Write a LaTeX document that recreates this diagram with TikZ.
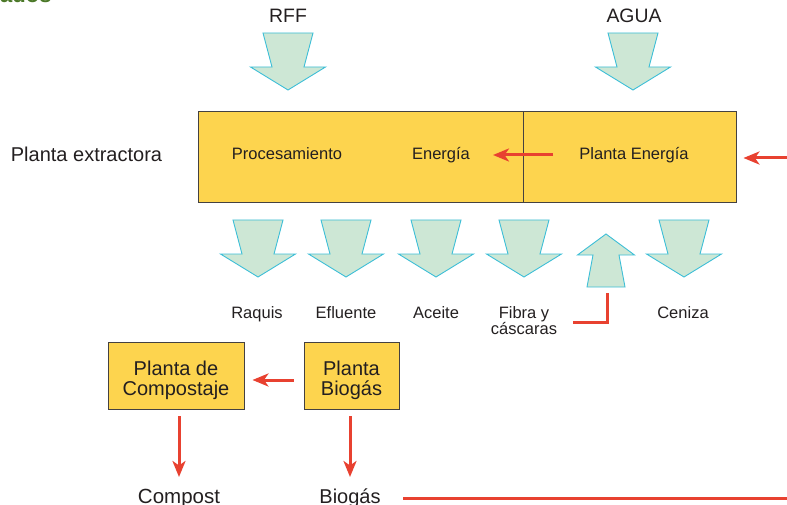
\documentclass[tikz,border=0pt]{standalone}
\usepackage{fontspec}
\setmainfont{Liberation Sans}
\usetikzlibrary{arrows.meta}
\definecolor{boxyellow}{RGB}{253,212,78}
\definecolor{arrgreen}{RGB}{205,231,213}
\definecolor{arrcyan}{RGB}{60,190,215}
\definecolor{redline}{RGB}{232,65,48}
\definecolor{txtgray}{RGB}{35,31,32}
\definecolor{titlegreen}{RGB}{75,120,40}
\begin{document}
\begin{tikzpicture}[x=1pt,y=-1pt,
  plantbox/.style={draw=txtgray!85, fill=boxyellow, line width=0.9pt, inner sep=0pt},
  blockarr/.style={draw=arrcyan, fill=arrgreen, line width=0.9pt, line join=miter},
  redarr/.style={draw=redline, line width=3pt, -{Stealth[length=16pt,width=13pt,inset=4.5pt]}},
  redplain/.style={draw=redline, line width=3pt},
  lblsmall/.style={text=txtgray, inner sep=0pt, anchor=base, font=\fontsize{16.5}{16}\selectfont, align=center},
  lblbig/.style={text=txtgray, inner sep=0pt, anchor=base, font=\fontsize{20}{20}\selectfont, align=center},
  downarr/.pic={\path[blockarr] (-25,0) -- (25,0) -- (16,34) -- (37.5,34) -- (0,57) -- (-37.5,34) -- (-16,34) -- cycle;},
  uparr/.pic={\path[blockarr] (0,0) -- (28.5,21) -- (13,21) -- (19,53) -- (-19,53) -- (-13,21) -- (-28.5,21) -- cycle;}
]
\useasboundingbox (0,0) rectangle (787,505);
\clip (0,0) rectangle (787,505);

% cropped title
\node[anchor=base west, inner sep=0pt, text=titlegreen, font=\fontsize{22}{22}\selectfont\bfseries] (title) at (0,3) {ados};

% inputs
\node[lblbig, font=\fontsize{19.4}{20}\selectfont] (rff) at (288,23) {RFF};
\node[lblbig, font=\fontsize{19.4}{20}\selectfont] (agua) at (634,23) {AGUA};
\pic at (288,33) {downarr};
\pic at (633,33) {downarr};

% main plant
\node[plantbox, minimum width=325pt, minimum height=91pt] (proc) at (360.5,156.5) {};
\node[plantbox, minimum width=213pt, minimum height=91pt] (pen) at (629.5,156.5) {};
\node[lblsmall] (proct) at (287,160) {Procesamiento};
\node[lblsmall] (energia) at (441,160) {Energía};
\node[lblsmall] (pent) at (634,160) {Planta Energía};
\node[lblbig] (extr) at (86.5,162) {Planta extractora};

\coordinate (eout) at (553,155);
\coordinate (etip) at (493,155);
\draw[redarr] (eout) -- (etip);
\coordinate (rin) at (787,158);
\draw[redarr, shorten >=7pt] (rin) -- (rin -| pen.east);

% outputs
\pic at (258,220) {downarr};
\pic at (346,220) {downarr};
\pic at (436,220) {downarr};
\pic at (524,220) {downarr};
\pic at (684,220) {downarr};
\pic at (606,234) {uparr};

\node[lblsmall] (raquis) at (257,318) {Raquis};
\node[lblsmall] (efluente) at (346,318) {Efluente};
\node[lblsmall] (aceite) at (436,318) {Aceite};
\node[lblsmall] (fibra) at (524,334) {Fibra y\\cáscaras};
\node[lblsmall] (ceniza) at (683,318) {Ceniza};

\coordinate (la) at (573,322);
\coordinate (lb) at (607,322);
\coordinate (lc) at (607,293);
\draw[redplain, line join=miter] (la) -- (lb) -- (lc);

% lower plants
\node[plantbox, minimum width=136pt, minimum height=67pt] (cbox) at (176,375.5) {};
\node[plantbox, minimum width=95pt, minimum height=67pt] (bbox) at (351.5,375.5) {};
\node[lblbig] (cboxt) at (176,395) {Planta de\\Compostaje};
\node[lblbig] (bboxt) at (351.5,395) {Planta\\Biogás};

\draw[redarr, shorten <=10pt, shorten >=8pt] ([yshift=-4.5pt]bbox.west) -- ([yshift=-4.5pt]cbox.east);

\node[lblbig, font=\fontsize{20.5}{20}\selectfont] (compost) at (179,503) {Compost};
\node[lblbig] (biogas) at (350,503) {Biogás};

\coordinate (ctip) at (179,477);
\coordinate (btip) at (350,477);
\draw[redarr, shorten <=7pt] (cbox.south -| ctip) -- (ctip);
\draw[redarr, shorten <=7pt] (bbox.south -| btip) -- (btip);

\coordinate (gs) at (403,498);
\coordinate (ge) at (787,498);
\draw[redplain] (gs) -- (ge);
\end{tikzpicture}
\end{document}
